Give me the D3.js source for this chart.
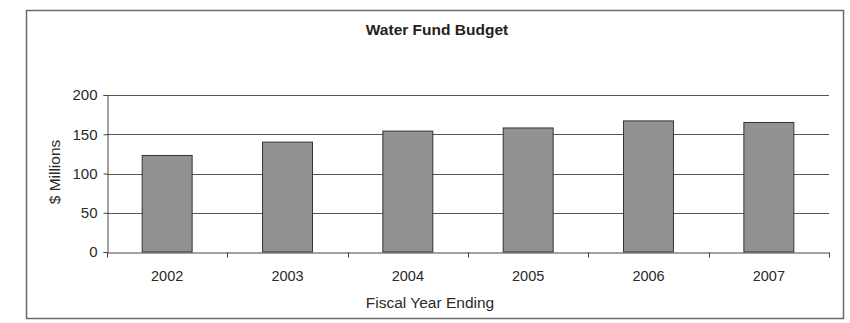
<!DOCTYPE html>
<html>
<head>
<meta charset="utf-8">
<script src="https://cdn.jsdelivr.net/npm/d3@7/dist/d3.min.js"></script>
<style>
  html, body { margin: 0; padding: 0; background: #ffffff; }
  svg { display: block; font-family: "Liberation Sans", Arial, sans-serif; }
</style>
</head>
<body>
<svg id="chart" width="850" height="323"></svg>
<script>
const categories = ["2002", "2003", "2004", "2005", "2006", "2007"];
const budgetValues = [123, 140, 154, 158, 167, 165];
const yTickValues = [0, 50, 100, 150, 200];
const chartTitle = "Water Fund Budget";
const xAxisTitle = "Fiscal Year Ending";
const yAxisTitle = "$ Millions";

const svg = d3.select("#chart");
const plot = { left: 107, right: 829, top: 95, bottom: 252 };

// outer frame
svg.append("rect")
  .attr("x", 26.5).attr("y", 10.5)
  .attr("width", 817).attr("height", 308)
  .attr("fill", "#ffffff")
  .attr("stroke", "#6a6a6a").attr("stroke-width", 1.5);

const x = d3.scaleBand().domain(categories).range([plot.left, plot.right]).padding(0);
const y = d3.scaleLinear().domain([0, 200]).range([plot.bottom, plot.top]);

// gridlines
svg.append("g").selectAll("line")
  .data(yTickValues.filter(v => v > 0))
  .join("line")
  .attr("x1", plot.left).attr("x2", plot.right)
  .attr("y1", d => Math.round(y(d)) + 0.5).attr("y2", d => Math.round(y(d)) + 0.5)
  .attr("stroke", "#555").attr("stroke-width", 1);

// bars
const barFrac = 0.415;
svg.append("g").selectAll("rect")
  .data(categories)
  .join("rect")
  .attr("x", (d) => x(d) + x.bandwidth() * (1 - barFrac) / 2)
  .attr("width", x.bandwidth() * barFrac)
  .attr("y", (d, i) => y(budgetValues[i]))
  .attr("height", (d, i) => y(0) - y(budgetValues[i]))
  .attr("fill", "#929292")
  .attr("stroke", "#333").attr("stroke-width", 1);

// y axis
const yAxis = d3.axisLeft(y).tickValues(yTickValues).tickSize(4).tickPadding(6);
const gy = svg.append("g").attr("transform", `translate(${plot.left + 0.5},0)`).call(yAxis);
gy.select(".domain").attr("stroke", "#444");
gy.selectAll(".tick line").attr("stroke", "#444");
gy.selectAll(".tick text").attr("fill", "#2a2a2a").attr("font-size", "15px")
  .attr("font-family", "Liberation Sans, Arial, sans-serif");

// x axis
const xAxis = d3.axisBottom(x).tickSize(0).tickPadding(18);
const gx = svg.append("g").attr("transform", `translate(0,${plot.bottom + 0.5})`).call(xAxis);
gx.select(".domain").attr("stroke", "#444");
gx.selectAll(".tick text").attr("fill", "#2a2a2a").attr("font-size", "14.5px")
  .attr("font-family", "Liberation Sans, Arial, sans-serif");
// category boundary tick marks
const bounds = categories.map(c => x(c)).concat([x(categories[categories.length - 1]) + x.bandwidth()]);
gx.append("g").selectAll("line")
  .data(bounds)
  .join("line")
  .attr("x1", d => Math.round(d) + 0.5).attr("x2", d => Math.round(d) + 0.5)
  .attr("y1", 0).attr("y2", 5)
  .attr("stroke", "#444");

// title
svg.append("text")
  .attr("x", 437).attr("y", 35)
  .attr("text-anchor", "middle")
  .attr("font-size", "15.5px").attr("font-weight", "bold")
  .attr("fill", "#222")
  .text(chartTitle);

// x axis title
svg.append("text")
  .attr("x", 430).attr("y", 308)
  .attr("text-anchor", "middle")
  .attr("font-size", "15.5px")
  .attr("fill", "#2a2a2a")
  .text(xAxisTitle);

// y axis title
svg.append("text")
  .attr("transform", "translate(60,172) rotate(-90)")
  .attr("text-anchor", "middle")
  .attr("font-size", "15.5px")
  .attr("fill", "#2a2a2a")
  .text(yAxisTitle);
</script>
</body>
</html>
